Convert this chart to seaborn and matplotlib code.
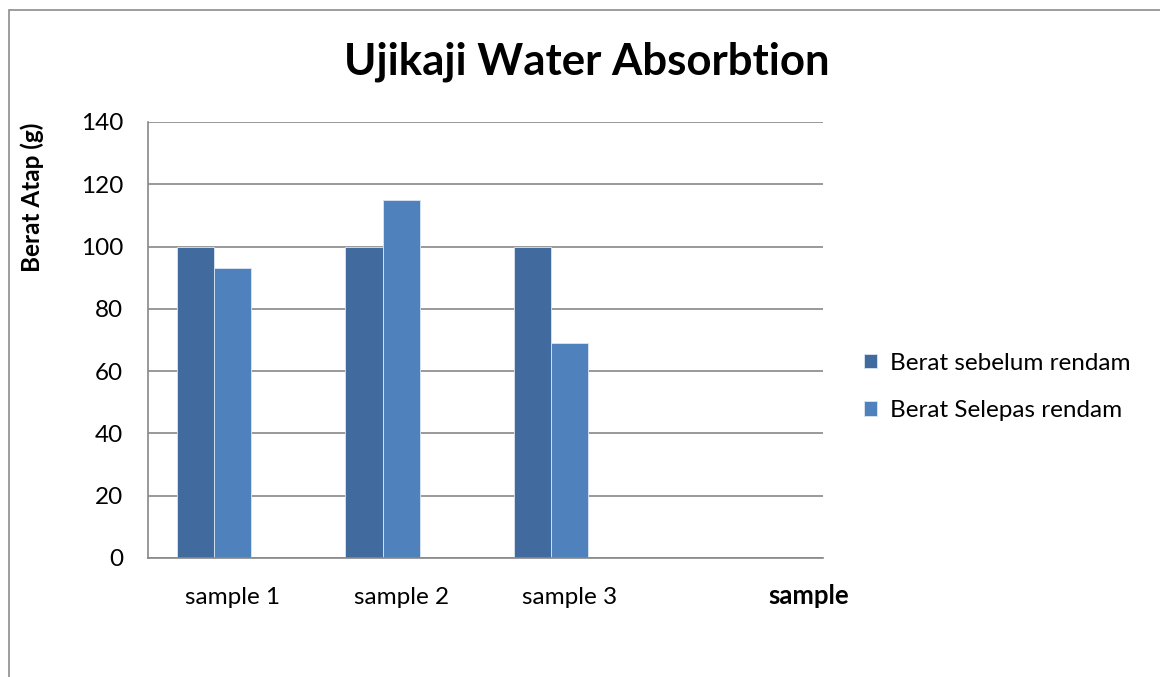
import pandas as pd
import matplotlib.pyplot as plt
import seaborn as sns
from matplotlib.patches import Rectangle

# data
samples = ["sample 1", "sample 2", "sample 3"]
berat_sebelum = [100, 100, 100]
berat_selepas = [93, 115, 69]
series_names = ["Berat sebelum rendam", "Berat Selepas rendam"]
y_ticks = [0, 20, 40, 60, 80, 100, 120, 140]

df = pd.DataFrame({
    "sample": samples * 2,
    "berat": berat_sebelum + berat_selepas,
    "seri": [series_names[0]] * 3 + [series_names[1]] * 3,
})

sns.set_style("white")
plt.rcParams['font.family'] = ['Lato', 'DejaVu Sans']
plt.rcParams['text.color'] = 'black'
plt.rcParams['xtick.labelcolor'] = 'black'
plt.rcParams['ytick.labelcolor'] = 'black'

fig = plt.figure(figsize=(11.6, 6.77), dpi=100)
ax = fig.add_axes([148 / 1160, 1 - 558 / 677, 675 / 1160, 436 / 677])

# outer chart frame
fig.patches.append(Rectangle((9 / 1160, -0.1), 1.2, 1 - 10 / 677 + 0.1,
                             transform=fig.transFigure, fill=False,
                             edgecolor="#8c8c8c", linewidth=1.2))

# the excel chart keeps room for an empty third series in each group
kosong = " "
warna = {series_names[0]: "#416b9e", series_names[1]: "#4f81bd", kosong: "#ffffff"}
sns.barplot(data=df, x="sample", y="berat", hue="seri",
            order=samples + [""], hue_order=series_names + [kosong],
            palette=warna, width=0.66, gap=0, dodge=True,
            saturation=1, linewidth=0.6, edgecolor="#dce6f2", ax=ax, legend=True)

ax.set_xlim(-0.5, 3.5)
ax.set_ylim(0, 140)
ax.set_yticks(y_ticks)
ax.yaxis.grid(True, color="#878787", linewidth=1.2)
ax.set_axisbelow(True)
for s in ["top", "right"]:
    ax.spines[s].set_visible(False)
for s in ["left", "bottom"]:
    ax.spines[s].set_color("#878787")
    ax.spines[s].set_linewidth(1.2)
ax.tick_params(axis="y", length=5, width=1.2, color="#878787", pad=13,
               labelsize=17.5, labelcolor="black")
ax.tick_params(axis="x", length=0, pad=21, labelsize=17.5, labelcolor="black")
ax.set_xlabel("")
ax.set_ylabel("")

fig.text(587 / 1160, 1 - 62 / 677, "Ujikaji Water Absorbtion", color="black",
         ha="center", va="center", fontsize=31.5, fontweight="bold")
fig.text(32 / 1160, 1 - 197 / 677, "Berat Atap (g)", rotation=90, color="black",
         ha="center", va="center", fontsize=17.5, fontweight="bold")
fig.text(809 / 1160, 1 - 596 / 677, "sample", ha="center", va="center",
         fontsize=18.5, fontweight="bold", color="black")

handles, labels = ax.get_legend_handles_labels()
leg = ax.legend(handles[:2], labels[:2], loc="center left",
                bbox_to_anchor=(864 / 1160, 1 - 387 / 677),
                bbox_transform=fig.transFigure, frameon=False, fontsize=17.5,
                handlelength=0.55, handleheight=0.55, handletextpad=0.5,
                labelspacing=1.1, borderaxespad=0, borderpad=0)
for t in leg.get_texts():
    t.set_color("black")

fig.savefig("out.png", dpi=100)
